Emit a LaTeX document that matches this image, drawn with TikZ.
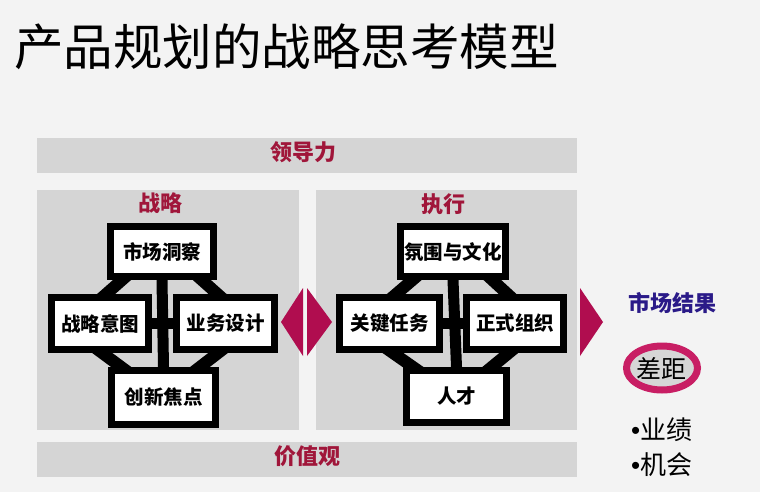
\documentclass[tikz,border=0pt]{standalone}
\usepackage{fontspec}
\newfontfamily\cjk{Noto Sans CJK SC}
\newfontfamily\latinf{Liberation Sans}
\usetikzlibrary{calc}
\definecolor{bgc}{HTML}{F3F3F3}
\definecolor{panelc}{HTML}{D5D5D5}
\definecolor{darkredc}{HTML}{A0163A}
\definecolor{diamc}{HTML}{B00D4F}
\definecolor{ringc}{HTML}{C81E64}
\definecolor{innerc}{HTML}{D6D6D6}
\definecolor{bluec}{HTML}{2A1A88}
\tikzset{
  boxnode/.style={draw=black, line width=7pt, fill=white, inner sep=0pt, font=\cjk\bfseries\fontsize{19.5}{19.5}\selectfont},
  linkbar/.style={draw=black, line width=12pt},
  crossbar/.style={draw=black, line width=11pt},
  panel/.style={fill=panelc, draw=none},
  redlabel/.style={text=darkredc, font=\cjk\bfseries\fontsize{22}{22}\selectfont, inner sep=0pt},
  diam/.style={fill=diamc, draw=none},
  bullettext/.style={anchor=west, font=\cjk\fontsize{26}{26}\selectfont, inner sep=0pt},
}
\begin{document}
\begin{tikzpicture}[x=1pt,y=-1pt]
\useasboundingbox (0,0) rectangle (760,492);
\fill[bgc] (0,0) rectangle (760,492);
% title
\node[anchor=west, inner sep=0pt, font=\cjk\fontsize{49.5}{49.5}\selectfont] (title) at (14,47) {产品规划的战略思考模型};
% bands and panels
\fill[panel] (37,138) rectangle (577,173);
\fill[panel] (37,190) rectangle (299,430);
\fill[panel] (316,190) rectangle (577,430);
\fill[panel] (37,442) rectangle (577,477);
\node[redlabel] (lead) at (303,152) {领导力};
\node[redlabel] (values) at (307,456) {价值观};
\node[redlabel] (strat) at (160,203) {战略};
\node[redlabel] (exec) at (443,204) {执行};
% left cluster
\node[boxnode, minimum width=103pt, minimum height=50pt] (t1) at (162,251.5) {市场洞察};
\node[boxnode, minimum width=97pt, minimum height=52pt] (l1) at (100,323.5) {战略意图};
\node[boxnode, minimum width=98pt, minimum height=52pt] (r1) at (225.5,323.5) {业务设计};
\node[boxnode, minimum width=104pt, minimum height=54pt] (b1) at (163.5,397.5) {创新焦点};
% right cluster
\node[boxnode, minimum width=105pt, minimum height=50pt] (t2) at (453,251.5) {氛围与文化};
\node[boxnode, minimum width=100pt, minimum height=52pt] (l2) at (389.5,323.5) {关键任务};
\node[boxnode, minimum width=97pt, minimum height=52pt] (r2) at (515,323.5) {正式组织};
\node[boxnode, minimum width=100pt, minimum height=52pt] (b2) at (456.5,396.5) {人才};
% connectors
\draw[linkbar] ($(l1.north)+(-12,16)$) -- ($(t1.south)+(-23,-15)$);
\draw[linkbar] ($(r1.north)+(10,16)$) -- ($(t1.south)+(23,-15)$);
\draw[linkbar] ($(l1.south)+(-18,-15)$) -- ($(b1.north)+(-22,15)$);
\draw[linkbar] ($(r1.south)+(12,-15)$) -- ($(b1.north)+(17,15)$);
\draw[crossbar] (t1.south) -- (b1.north);
\draw[crossbar] (l1.east) -- (r1.west);
\draw[linkbar] ($(l2.north)+(-12,16)$) -- ($(t2.south)+(-23,-15)$);
\draw[linkbar] ($(r2.north)+(10,16)$) -- ($(t2.south)+(23,-15)$);
\draw[linkbar] ($(l2.south)+(-18,-15)$) -- ($(b2.north)+(-22,15)$);
\draw[linkbar] ($(r2.south)+(12,-15)$) -- ($(b2.north)+(17,15)$);
\draw[crossbar] (t2.south) -- (b2.north);
\draw[crossbar] (l2.east) -- (r2.west);
% boxes drawn again over the connector ends
\node[boxnode, minimum width=103pt, minimum height=50pt] at (t1) {市场洞察};
\node[boxnode, minimum width=97pt, minimum height=52pt] at (l1) {战略意图};
\node[boxnode, minimum width=98pt, minimum height=52pt] at (r1) {业务设计};
\node[boxnode, minimum width=104pt, minimum height=54pt] at (b1) {创新焦点};
\node[boxnode, minimum width=105pt, minimum height=50pt] at (t2) {氛围与文化};
\node[boxnode, minimum width=100pt, minimum height=52pt] at (l2) {关键任务};
\node[boxnode, minimum width=97pt, minimum height=52pt] at (r2) {正式组织};
\node[boxnode, minimum width=100pt, minimum height=52pt] at (b2) {人才};
% diamond between panels
\fill[diam] (281,322) -- (303,288) -- (303,356) -- cycle;
\fill[diam] (307,288) -- (332,322) -- (307,356) -- cycle;
% right arrow
\fill[diam] (580,288) -- (603,322) -- (580,356) -- cycle;
% market results
\node[text=bluec, font=\cjk\bfseries\fontsize{22}{22}\selectfont, inner sep=0pt] (mkt) at (672,303) {市场结果};
\draw[draw=ringc, fill=innerc, line width=7pt] (662,368) ellipse [x radius=35.5, y radius=22];
\node[font=\cjk\fontsize{25}{25}\selectfont, inner sep=0pt] (gap) at (661,368) {差距};
\node[bullettext] (perf) at (631,430) {{\latinf •}业绩};
\node[bullettext] (opp) at (631,465) {{\latinf •}机会};
\end{tikzpicture}
\end{document}
